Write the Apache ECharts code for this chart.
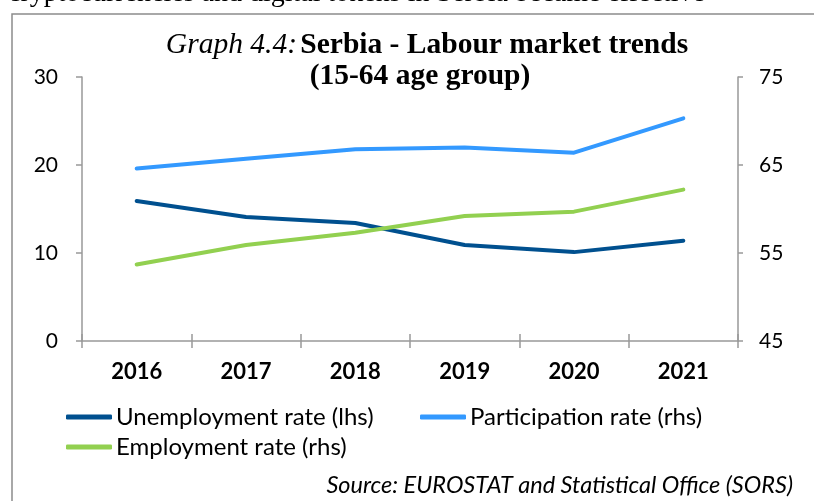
<!DOCTYPE html>
<html>
<head>
<meta charset="utf-8">
<script src="https://cdn.jsdelivr.net/npm/echarts@6/dist/echarts.min.js"></script>
<style>
html,body{margin:0;padding:0;background:#fff;}
#chart{width:814px;height:501px;}
</style>
</head>
<body>
<div id="chart"></div>
<script>
const years = ['2016', '2017', '2018', '2019', '2020', '2021'];
const unemploymentRate = [15.9, 14.1, 13.4, 10.9, 10.1, 11.4];
const participationRate = [64.6, 65.7, 66.8, 67.0, 66.4, 70.3];
const employmentRate = [53.7, 55.9, 57.3, 59.2, 59.7, 62.2];
const leftTicks = { min: 0, max: 30, interval: 10 };
const rightTicks = { min: 45, max: 75, interval: 10 };

const names = ['Unemployment rate (lhs)', 'Participation rate (rhs)', 'Employment rate (rhs)'];
const colors = ['#00508F', '#3399FF', '#92D050'];
const axisColor = '#999999';
const sans = 'Lato';

const chart = echarts.init(document.getElementById('chart'), null, { renderer: 'canvas' });

function legendAt(name, left, top) {
  return {
    data: [name], left: left, top: top, orient: 'horizontal',
    icon: 'roundRect', itemWidth: 46, itemHeight: 5, itemGap: 0,
    padding: 0,
    textStyle: { fontFamily: sans, fontSize: 24, color: '#000', padding: [0, 0, 0, -1], lineHeight: 26 }
  };
}

chart.setOption({
  animation: false,
  backgroundColor: '#fff',
  grid: { left: 82, right: 76, top: 77, bottom: 160 },
  legend: [
    legendAt(names[0], 66, 404),
    legendAt(names[1], 420, 404),
    legendAt(names[2], 66, 434)
  ],
  xAxis: [{
    type: 'category', data: years, position: 'bottom', boundaryGap: true,
    axisLine: { show: true, lineStyle: { color: axisColor, width: 1.5 } },
    axisTick: { show: true, length: 7, lineStyle: { color: axisColor, width: 1.5 } },
    axisLabel: { fontFamily: sans, fontWeight: 'bold', fontSize: 22, color: '#000', margin: 20 },
    splitLine: { show: false }
  }, {
    type: 'category', data: years, position: 'bottom', boundaryGap: true,
    axisLine: { show: false },
    axisTick: { show: true, inside: true, length: 7, lineStyle: { color: axisColor, width: 1.5 } },
    axisLabel: { show: false },
    splitLine: { show: false }
  }],
  yAxis: [{
    type: 'value', position: 'left', min: leftTicks.min, max: leftTicks.max, interval: leftTicks.interval,
    axisLine: { show: true, lineStyle: { color: axisColor, width: 1.5 } },
    axisTick: { show: true, length: 6, lineStyle: { color: axisColor, width: 1.5 } },
    axisLabel: { fontFamily: sans, fontSize: 21, color: '#000', margin: 24 },
    splitLine: { show: false }
  }, {
    type: 'value', position: 'right', min: rightTicks.min, max: rightTicks.max, interval: rightTicks.interval,
    axisLine: { show: true, lineStyle: { color: axisColor, width: 1.5 } },
    axisTick: { show: true, length: 5, lineStyle: { color: axisColor, width: 1.5 } },
    axisLabel: { fontFamily: sans, fontSize: 21, color: '#000', margin: 21 },
    splitLine: { show: false }
  }],
  series: [
    { name: names[0], type: 'line', yAxisIndex: 0, data: unemploymentRate, color: colors[0],
      showSymbol: false, symbol: 'none', lineStyle: { width: 4, color: colors[0], cap: 'round', join: 'round' } },
    { name: names[1], type: 'line', yAxisIndex: 1, data: participationRate, color: colors[1],
      showSymbol: false, symbol: 'none', lineStyle: { width: 4, color: colors[1], cap: 'round', join: 'round' } },
    { name: names[2], type: 'line', yAxisIndex: 1, data: employmentRate, color: colors[2],
      showSymbol: false, symbol: 'none', lineStyle: { width: 4, color: colors[2], cap: 'round', join: 'round' } }
  ],
  graphic: [
    { type: 'rect', shape: { x: 12, y: 14, width: 840, height: 540 }, style: { fill: null, stroke: '#8C8C8C', lineWidth: 1.5 }, z: -1, silent: true },
    { type: 'text', left: 8, top: -20, style: { text: 'cryptocurrencies and digital tokens in Serbia became effective', fontFamily: 'Liberation Serif', fontSize: 28, fill: '#000' } },
    { type: 'text', x: 427, y: 45, style: {
        text: '{i|Graph 4.4:} {b|Serbia - Labour market trends}', align: 'center', verticalAlign: 'middle',
        rich: {
          i: { fontFamily: 'Liberation Serif', fontStyle: 'italic', fontSize: 29.5, fill: '#000' },
          b: { fontFamily: 'Liberation Serif', fontWeight: 'bold', fontSize: 29.5, fill: '#000' }
        } } },
    { type: 'text', x: 420, y: 76, style: { text: '(15-64 age group)', align: 'center', verticalAlign: 'middle',
        fontFamily: 'Liberation Serif', fontWeight: 'bold', fontSize: 29.5, fill: '#000' } },
    { type: 'text', x: 793, y: 485, style: { text: 'Source: EUROSTAT and Statistical Office (SORS)', align: 'right', verticalAlign: 'middle',
        fontFamily: sans, fontStyle: 'italic', fontSize: 23.5, fill: '#000' } }
  ]
});
</script>
</body>
</html>
